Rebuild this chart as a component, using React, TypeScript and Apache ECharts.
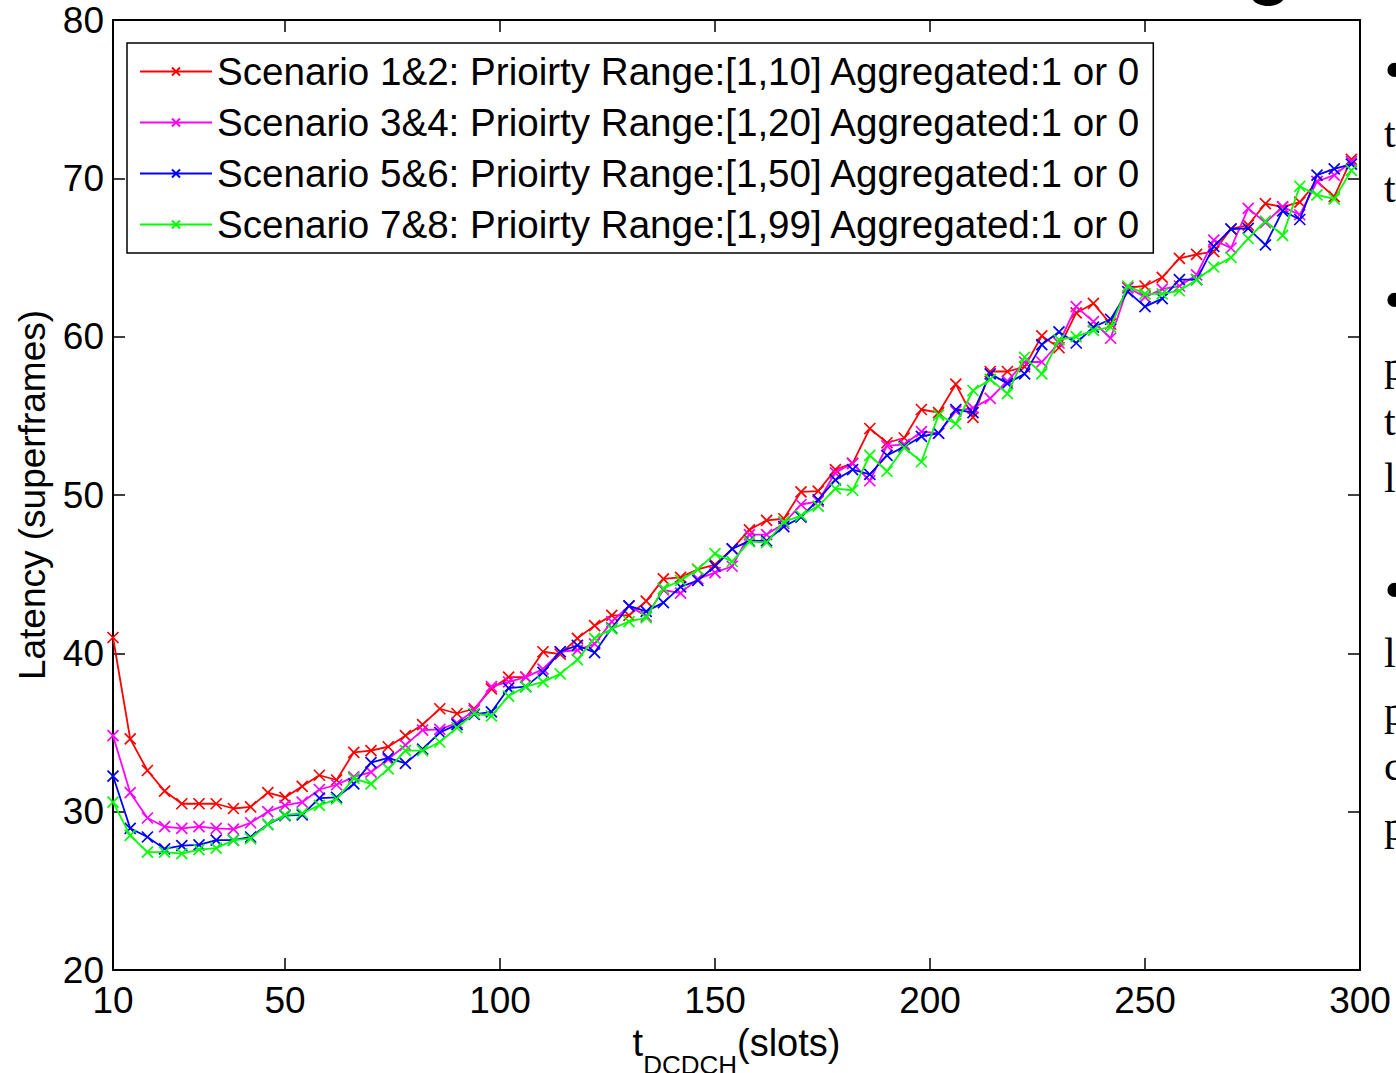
import React, { useEffect, useRef } from "react";
import * as echarts from "echarts";

const X_SLOTS = [
  10, 14, 18, 22, 26, 30, 34, 38, 42, 46, 50, 54, 58, 62, 66, 70, 74, 78, 82, 86,
  90, 94, 98, 102, 106, 110, 114, 118, 122, 126, 130, 134, 138, 142, 146, 150,
  154, 158, 162, 166, 170, 174, 178, 182, 186, 190, 194, 198, 202, 206, 210, 214,
  218, 222, 226, 230, 234, 238, 242, 246, 250, 254, 258, 262, 266, 270, 274, 278,
  282, 286, 290, 294, 298,
];

const RED = [
  41.0, 34.6, 32.6, 31.3, 30.5, 30.5, 30.5, 30.2, 30.3, 31.2, 30.9, 31.6, 32.3, 32.0,
  33.75, 33.85, 34.1, 34.8, 35.5, 36.5, 36.2, 36.5, 37.75, 38.5, 38.5, 40.1, 39.95,
  40.95, 41.75, 42.4, 42.4, 43.3, 44.7, 44.8, 45.3, 45.6, 46.6, 47.8, 48.4, 48.5,
  50.2, 50.25, 51.6, 52.0, 54.2, 53.3, 53.6, 55.4, 55.2, 57.0, 54.9, 57.8, 57.8,
  58.1, 60.05, 59.3, 61.5, 62.1, 60.8, 63.1, 63.2, 63.75, 64.95, 65.2, 65.37, 66.8,
  67.05, 68.4, 68.2, 68.5, 69.8, 68.84, 71.2,
];

const MAGENTA = [
  34.8, 31.2, 29.6, 29.05, 28.95, 29.05, 28.95, 28.9, 29.3, 30.0, 30.4, 30.6, 31.4,
  31.7, 32.2, 32.5, 33.3, 34.2, 35.15, 35.2, 35.6, 36.4, 37.9, 38.2, 38.5, 39.0,
  40.1, 40.2, 40.6, 42.0, 43.0, 42.35, 44.0, 43.8, 44.7, 45.1, 45.5, 47.5, 47.5,
  48.2, 49.4, 49.6, 51.4, 52.0, 50.9, 53.1, 53.2, 54.0, 53.9, 55.3, 55.5, 56.1,
  57.2, 58.4, 58.4, 59.6, 61.9, 60.95, 59.9, 63.1, 62.5, 63.0, 63.2, 63.9, 66.1,
  65.6, 68.1, 67.2, 68.2, 67.7, 69.8, 70.2, 71.05,
];

const BLUE = [
  32.25, 28.95, 28.4, 27.65, 27.85, 27.9, 28.2, 28.2, 28.4, 29.2, 29.75, 29.8, 30.85,
  30.9, 31.75, 33.1, 33.4, 33.05, 33.95, 35.0, 35.5, 36.15, 36.3, 37.8, 37.9, 38.8,
  40.1, 40.5, 40.05, 41.6, 43.0, 42.65, 43.2, 44.2, 44.6, 45.5, 46.6, 47.1, 47.1,
  48.0, 48.6, 49.7, 50.95, 51.6, 51.3, 52.5, 53.05, 53.7, 53.9, 55.4, 55.2, 57.65,
  57.05, 57.65, 59.5, 60.3, 59.6, 60.6, 61.1, 62.85, 61.9, 62.4, 63.6, 63.6, 65.7,
  66.8, 66.84, 65.8, 67.95, 67.4, 70.2, 70.6, 70.9,
];

const GREEN = [
  30.6, 28.5, 27.45, 27.45, 27.35, 27.6, 27.7, 28.2, 28.3, 29.2, 29.8, 29.9, 30.4,
  30.8, 32.1, 31.75, 32.7, 33.85, 33.85, 34.4, 35.3, 36.2, 36.05, 37.3, 37.9, 38.2,
  38.7, 39.6, 40.95, 41.55, 42.0, 42.25, 44.1, 44.6, 45.3, 46.3, 45.8, 47.05, 47.0,
  48.3, 48.7, 49.3, 50.4, 50.3, 52.5, 51.5, 53.0, 52.1, 55.05, 54.5, 56.6, 57.3,
  56.4, 58.7, 57.65, 59.8, 60.0, 60.4, 60.6, 63.2, 62.7, 62.7, 62.9, 63.6, 64.4,
  65.0, 66.2, 67.3, 66.4, 69.5, 68.95, 68.7, 70.5,
];

const SERIES_NAMES = [
  "Scenario 1&2: Prioirty Range:[1,10] Aggregated:1 or 0",
  "Scenario 3&4: Prioirty Range:[1,20] Aggregated:1 or 0",
  "Scenario 5&6: Prioirty Range:[1,50] Aggregated:1 or 0",
  "Scenario 7&8: Prioirty Range:[1,99] Aggregated:1 or 0",
];
const SERIES_COLORS = ["#ff0000", "#ff00ff", "#0000ff", "#00ff00"];
const SERIES_VALUES = [RED, MAGENTA, BLUE, GREEN];

const X_TICKS = [10, 50, 100, 150, 200, 250, 300];
const Y_MIN = 20;
const Y_MAX = 80;
const Y_STEP = 10;

const FONT = 'Arial, "Liberation Sans", sans-serif';
const SERIF = '"Times New Roman", "Liberation Serif", serif';
const X_MARK = "path://M0,0L10,10M10,0L0,10";

export default function App() {
  const ref = useRef<HTMLDivElement>(null);

  useEffect(() => {
    if (!ref.current) return;
    const chart = echarts.init(ref.current, null, { renderer: "svg" });

    const axisLine = { show: true, onZero: false, lineStyle: { color: "#000", width: 2 } };
    const tickStyle = { color: "#000", width: 1.5 };

    const sideText = (text: string, y: number, size = 42) => ({
      type: "text",
      left: 1384,
      top: y,
      style: { text, font: `${size}px ${SERIF}`, fill: "#000" },
    });

    const option: any = {
      animation: false,
      backgroundColor: "#fff",
      grid: {
        left: 113,
        right: 36,
        top: 20,
        bottom: 103,
        containLabel: false,
        outerBoundsMode: "none",
      },
      legend: {
        orient: "vertical",
        left: 127,
        top: 43,
        backgroundColor: "#fff",
        borderColor: "#000",
        borderWidth: 1.5,
        borderRadius: 0,
        padding: [9, 12, 9, 12],
        itemGap: 12,
        itemWidth: 72,
        itemHeight: 10,
        textStyle: { fontSize: 38.6, fontFamily: FONT, color: "#000" },
        data: SERIES_NAMES,
      },
      xAxis: [
        {
          type: "value",
          min: 10,
          max: 300,
          position: "bottom",
          axisLine,
          axisTick: { show: true, inside: true, length: 12, customValues: X_TICKS, lineStyle: tickStyle },
          axisLabel: {
            show: true,
            customValues: X_TICKS,
            fontSize: 37,
            fontFamily: FONT,
            color: "#000",
            margin: 12,
          },
          splitLine: { show: false },
          name: "{a|t}{b|DCDCH}{a|(slots)}",
          nameLocation: "middle",
          nameGap: 50,
          nameTextStyle: {
            rich: {
              a: { fontSize: 38, fontFamily: FONT, color: "#000", lineHeight: 42, verticalAlign: "top" },
              b: { fontSize: 26, fontFamily: FONT, color: "#000", lineHeight: 54, verticalAlign: "bottom" },
            },
          },
        },
        {
          type: "value",
          min: 10,
          max: 300,
          position: "top",
          axisLine,
          axisTick: { show: true, inside: true, length: 12, customValues: X_TICKS, lineStyle: tickStyle },
          axisLabel: { show: false },
          splitLine: { show: false },
        },
      ],
      yAxis: [
        {
          type: "value",
          min: Y_MIN,
          max: Y_MAX,
          interval: Y_STEP,
          position: "left",
          axisLine,
          axisTick: { show: true, inside: true, length: 12, lineStyle: tickStyle },
          axisLabel: { fontSize: 37, fontFamily: FONT, color: "#000", margin: 9 },
          splitLine: { show: false },
          name: "Latency (superframes)",
          nameLocation: "middle",
          nameRotate: 90,
          nameGap: 62,
          nameTextStyle: { fontSize: 37, fontFamily: FONT, color: "#000" },
        },
        {
          type: "value",
          min: Y_MIN,
          max: Y_MAX,
          interval: Y_STEP,
          position: "right",
          axisLine,
          axisTick: { show: true, inside: true, length: 12, lineStyle: tickStyle },
          axisLabel: { show: false },
          splitLine: { show: false },
        },
      ],
      series: SERIES_NAMES.map((name, i) => ({
        name,
        type: "line",
        xAxisIndex: 0,
        yAxisIndex: 0,
        data: X_SLOTS.map((x, j) => [x, SERIES_VALUES[i][j]]),
        color: SERIES_COLORS[i],
        symbol: X_MARK,
        symbolSize: 11,
        showSymbol: true,
        lineStyle: { color: SERIES_COLORS[i], width: 1.8 },
        itemStyle: { color: SERIES_COLORS[i], borderColor: SERIES_COLORS[i], borderWidth: 1.7 },
        emphasis: { disabled: true },
        z: 2 + i,
      })),
      graphic: [
        {
          type: "ellipse",
          shape: { cx: 1268, cy: -5, rx: 17, ry: 11 },
          style: { fill: "#000" },
        },
        sideText("•", 40, 60),
        sideText("t", 112),
        sideText("t", 167),
        sideText("•", 270, 60),
        sideText("p", 345),
        sideText("t", 400),
        sideText("l", 457),
        sideText("•", 560, 60),
        sideText("l", 632),
        sideText("p", 690),
        sideText("c", 745),
        sideText("p", 805),
      ],
    };

    chart.setOption(option);
    return () => chart.dispose();
  }, []);

  return (
    <div
      ref={ref}
      style={{ position: "absolute", left: 0, top: 0, width: 1396, height: 1073, background: "#fff" }}
    />
  );
}
